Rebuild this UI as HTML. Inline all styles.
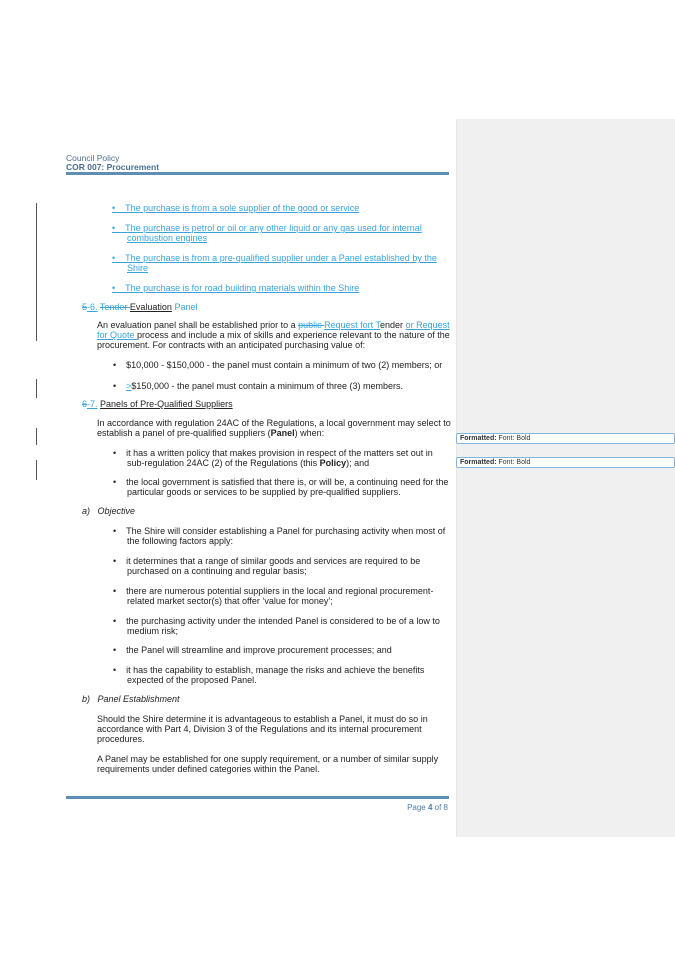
<!DOCTYPE html>
<html><head><meta charset="utf-8"><style>
html,body{margin:0;padding:0;background:#fff;}
body{width:675px;height:955px;position:relative;overflow:hidden;font-family:"Liberation Sans",Arial,sans-serif;font-size:9px;color:#222;}
.l{position:absolute;white-space:nowrap;line-height:10px;}
.b{color:#3aa3dc;text-decoration:underline;}
.u{text-decoration:underline;}
.s{color:#3aa3dc;text-decoration:line-through;}
.bar{position:absolute;left:36px;width:1px;background:#555;}
.fb{position:absolute;left:456px;width:214px;height:9px;border:1px solid #7fb6dc;border-radius:2px;background:#fff;font-size:7px;line-height:9px;padding-left:3px;font-weight:bold;color:#333;}
i{font-style:italic;}
</style></head><body>
<div style="position:absolute;left:456px;top:119px;width:219px;height:718px;background:#f0f0f0;border-left:1px solid #e6e6e6;"></div>
<div class="l" style="left:66px;top:153px;color:#4a6f8e;font-size:8.5px">Council Policy</div>
<div class="l" style="left:66px;top:162px;color:#4a6f8e;font-size:8.5px;font-weight:bold">COR 007: Procurement</div>
<div style="position:absolute;left:66px;top:172px;width:383px;height:3px;background:#5e8fb3;"></div>

<div class="bar" style="top:203px;height:138px"></div>
<div class="bar" style="top:379px;height:19px"></div>
<div class="bar" style="top:428px;height:17px"></div>
<div class="bar" style="top:460px;height:20px"></div>

<div class="l b" style="left:112px;top:203px">•&nbsp;&nbsp;&nbsp;&nbsp;The purchase is from a sole supplier of the good or service</div>
<div class="l b" style="left:112px;top:223px">•&nbsp;&nbsp;&nbsp;&nbsp;The purchase is petrol or oil or any other liquid or any gas used for internal</div>
<div class="l b" style="left:127px;top:233px">combustion engines</div>
<div class="l b" style="left:112px;top:253px">•&nbsp;&nbsp;&nbsp;&nbsp;The purchase is from a pre-qualified supplier under a Panel established by the</div>
<div class="l b" style="left:127px;top:263px">Shire</div>
<div class="l b" style="left:112px;top:283px">•&nbsp;&nbsp;&nbsp;&nbsp;The purchase is for road building materials within the Shire</div>

<div class="l" style="left:82px;top:302px"><span class="s">5</span><span class="b">-6.</span> <span class="s">Tender </span><span class="u">Evaluation</span> <span class="b" style="text-decoration:none">Panel</span></div>
<div class="l" style="left:97px;top:320px">An evaluation panel shall be established prior to a <span class="s">public </span><span class="b">Request fort T</span>ender <span class="b">or Request</span></div>
<div class="l" style="left:97px;top:330px"><span class="b">for Quote </span>process and include a mix of skills and experience relevant to the nature of the</div>
<div class="l" style="left:97px;top:340px">procurement. For contracts with an anticipated purchasing value of:</div>
<div class="l" style="left:113px;top:360px">•&nbsp;&nbsp;&nbsp;&nbsp;$10,000 - $150,000 - the panel must contain a minimum of two (2) members; or</div>
<div class="l" style="left:113px;top:381px">•&nbsp;&nbsp;&nbsp;&nbsp;<span class="b">&gt;</span>$150,000 - the panel must contain a minimum of three (3) members.</div>

<div class="l" style="left:82px;top:399px"><span class="s">6</span><span class="b">-7.</span> <span class="u">Panels of Pre-Qualified Suppliers</span></div>
<div class="l" style="left:97px;top:418px">In accordance with regulation 24AC of the Regulations, a local government may select to</div>
<div class="l" style="left:97px;top:428px">establish a panel of pre-qualified suppliers (<b>Panel</b>) when:</div>
<div class="l" style="left:113px;top:448px">•&nbsp;&nbsp;&nbsp;&nbsp;it has a written policy that makes provision in respect of the matters set out in</div>
<div class="l" style="left:127px;top:458px">sub-regulation 24AC (2) of the Regulations (this <b>Policy</b>); and</div>
<div class="l" style="left:113px;top:477px">•&nbsp;&nbsp;&nbsp;&nbsp;the local government is satisfied that there is, or will be, a continuing need for the</div>
<div class="l" style="left:127px;top:487px">particular goods or services to be supplied by pre-qualified suppliers.</div>

<div class="l" style="left:82px;top:506px"><i>a)&nbsp;&nbsp;&nbsp;Objective</i></div>
<div class="l" style="left:113px;top:526px">•&nbsp;&nbsp;&nbsp;&nbsp;The Shire will consider establishing a Panel for purchasing activity when most of</div>
<div class="l" style="left:127px;top:536px">the following factors apply:</div>
<div class="l" style="left:113px;top:556px">•&nbsp;&nbsp;&nbsp;&nbsp;it determines that a range of similar goods and services are required to be</div>
<div class="l" style="left:127px;top:566px">purchased on a continuing and regular basis;</div>
<div class="l" style="left:113px;top:586px">•&nbsp;&nbsp;&nbsp;&nbsp;there are numerous potential suppliers in the local and regional procurement-</div>
<div class="l" style="left:127px;top:596px">related market sector(s) that offer ‘value for money’;</div>
<div class="l" style="left:113px;top:616px">•&nbsp;&nbsp;&nbsp;&nbsp;the purchasing activity under the intended Panel is considered to be of a low to</div>
<div class="l" style="left:127px;top:626px">medium risk;</div>
<div class="l" style="left:113px;top:645px">•&nbsp;&nbsp;&nbsp;&nbsp;the Panel will streamline and improve procurement processes; and</div>
<div class="l" style="left:113px;top:665px">•&nbsp;&nbsp;&nbsp;&nbsp;it has the capability to establish, manage the risks and achieve the benefits</div>
<div class="l" style="left:127px;top:675px">expected of the proposed Panel.</div>

<div class="l" style="left:82px;top:694px"><i>b)&nbsp;&nbsp;&nbsp;Panel Establishment</i></div>
<div class="l" style="left:97px;top:714px">Should the Shire determine it is advantageous to establish a Panel, it must do so in</div>
<div class="l" style="left:97px;top:724px">accordance with Part 4, Division 3 of the Regulations and its internal procurement</div>
<div class="l" style="left:97px;top:734px">procedures.</div>
<div class="l" style="left:97px;top:754px">A Panel may be established for one supply requirement, or a number of similar supply</div>
<div class="l" style="left:97px;top:764px">requirements under defined categories within the Panel.</div>

<div style="position:absolute;left:66px;top:796px;width:383px;height:3px;background:#5e8fb3;"></div>
<div class="l" style="left:400px;top:803px;width:48px;text-align:right;color:#4a7fa8;font-size:8px">Page <b>4</b> of 8</div>

<div class="fb" style="top:433px">Formatted: <span style="font-weight:normal">Font: Bold</span></div>
<div class="fb" style="top:457px">Formatted: <span style="font-weight:normal">Font: Bold</span></div>
</body></html>
